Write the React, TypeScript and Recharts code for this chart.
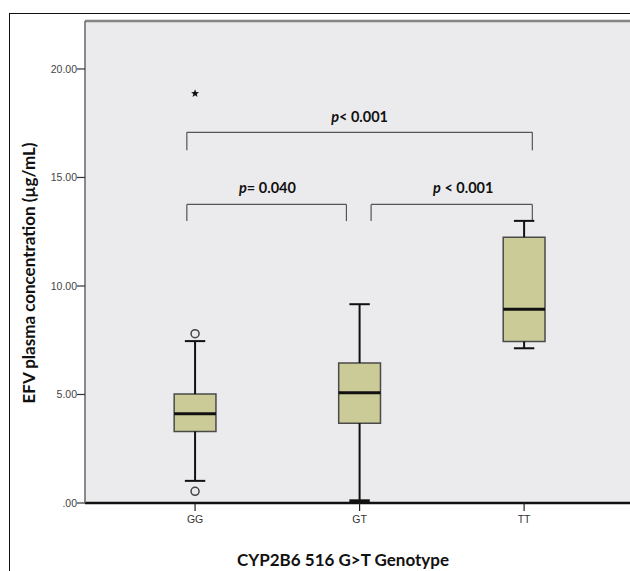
import React from 'react';
import {
  ComposedChart,
  XAxis,
  YAxis,
  CartesianGrid,
  ReferenceArea,
  ReferenceLine,
  Scatter,
} from 'recharts';

const categories = ['GG', 'GT', 'TT'];
const q1 = [3.3, 3.68, 7.44];
const medians = [4.11, 5.08, 8.93];
const q3 = [5.02, 6.45, 12.25];
const whiskerLow = [1.02, 0.1, 7.13];
const whiskerHigh = [7.46, 9.16, 13.0];
const circleOutliers = [
  { x: 0, y: 7.8 },
  { x: 0, y: 0.54 },
];
const starOutliers = [{ x: 0, y: 18.87 }];
const yTicks = [0, 5, 10, 15, 20];
const yTickLabels = ['.00', '5.00', '10.00', '15.00', '20.00'];
const brackets = [
  { x1: -0.05, x2: 2.05, yTop: 17.08, yLeg: 16.26 },
  { x1: -0.05, x2: 0.92, yTop: 13.76, yLeg: 12.99 },
  { x1: 1.07, x2: 2.05, yTop: 13.76, yLeg: 12.99 },
];
const pLabels = [
  { x: 1.0, y: 17.8, p: 'p', rest: '< 0.001' },
  { x: 0.44, y: 14.5, p: 'p', rest: '= 0.040' },
  { x: 1.63, y: 14.5, p: 'p', rest: ' < 0.001' },
];

const X_MIN = -0.669;
const X_MAX = 2.826;
const Y_MAX = 22.21;
const BOX_HALF = 0.127;
const CAP_HALF = 0.062;
const TITLE_FONT = 'Lato, "Open Sans", sans-serif';
const TICK_FONT = '"Liberation Sans", Arial, sans-serif';

const StarShape = (props: any) => {
  const { cx, cy } = props;
  const R = 4.2;
  const r = 1.8;
  const pts: string[] = [];
  for (let i = 0; i < 10; i++) {
    const a = (Math.PI / 5) * i - Math.PI / 2;
    const rad = i % 2 === 0 ? R : r;
    pts.push(`${cx + rad * Math.cos(a)},${cy + rad * Math.sin(a)}`);
  }
  return <polygon points={pts.join(' ')} fill="#111" />;
};

const CircleShape = (props: any) => {
  const { cx, cy } = props;
  return <circle cx={cx} cy={cy} r={4} fill="none" stroke="#444" strokeWidth={1.5} />;
};

const LabelShape = (props: any) => {
  const { cx, cy, payload } = props;
  return (
    <text
      x={cx}
      y={cy + 5}
      textAnchor="middle"
      fontFamily={TITLE_FONT}
      fontWeight="bold"
      fontSize={14.5}
      fill="#111"
    >
      <tspan fontStyle="italic">{payload.p}</tspan>
      <tspan>{payload.rest}</tspan>
    </text>
  );
};

const XTick = (props: any) => {
  const { x, y, payload } = props;
  return (
    <text
      x={x}
      y={y + 9}
      textAnchor="middle"
      fontFamily={TICK_FONT}
      fontSize={10.5}
      fill="#333333"
    >
      {categories[payload.value] ?? ''}
    </text>
  );
};

export default function App() {
  return (
    <div
      style={{
        position: 'fixed',
        left: 0,
        top: 0,
        width: 630,
        height: 571,
        overflow: 'hidden',
        background: '#fff',
      }}
    >
      <div
        style={{
          position: 'absolute',
          left: 9,
          top: 13,
          width: 800,
          height: 800,
          border: '1.5px solid #111',
          boxSizing: 'border-box',
        }}
      />
      <div style={{ position: 'absolute', left: 0, top: 0 }}>
        <ComposedChart
          width={660}
          height={571}
          margin={{ top: 21, right: 0, bottom: 0, left: 0 }}
        >
          <CartesianGrid horizontal={false} vertical={false} fill="#ebebed" />
          <XAxis
            type="number"
            dataKey="x"
            domain={[X_MIN, X_MAX]}
            ticks={[0, 1, 2]}
            allowDataOverflow
            height={68}
            tickSize={8}
            tickMargin={3}
            axisLine={{ stroke: '#111', strokeWidth: 2.5 }}
            tickLine={{ stroke: '#222', strokeWidth: 1.2 }}
            tick={XTick}
            label={{
              content: () => (
                <text
                  x={343}
                  y={566}
                  textAnchor="middle"
                  fontFamily={TITLE_FONT}
                  fontWeight="bold"
                  fontSize={17}
                  fill="#111"
                >
                  CYP2B6 516 G&gt;T Genotype
                </text>
              ),
            }}
          />
          <YAxis
            type="number"
            dataKey="y"
            domain={[0, Y_MAX]}
            ticks={yTicks}
            tickFormatter={(v: number) => yTickLabels[yTicks.indexOf(v)] ?? ''}
            allowDataOverflow
            width={85}
            tickSize={8}
            tickMargin={0}
            axisLine={{ stroke: '#666', strokeWidth: 1.5 }}
            tickLine={{ stroke: '#333', strokeWidth: 1.2 }}
            tick={{ fontFamily: TICK_FONT, fontSize: 10.5, fill: '#444' }}
            label={{
              content: () => (
                <text
                  x={28}
                  y={273}
                  transform="rotate(-90, 28, 273)"
                  textAnchor="middle"
                  dominantBaseline="central"
                  fontFamily={TITLE_FONT}
                  fontWeight="bold"
                  fontSize={17}
                  fill="#111"
                >
                  EFV plasma concentration (µg/mL)
                </text>
              ),
            }}
          />
          <ReferenceLine
            segment={[
              { x: X_MIN, y: Y_MAX },
              { x: X_MAX, y: Y_MAX },
            ]}
            stroke="#858585"
            strokeWidth={2.5}
            ifOverflow="visible"
          />
          {brackets.map((b, i) => (
            <React.Fragment key={`br${i}`}>
              <ReferenceLine
                segment={[
                  { x: b.x1, y: b.yTop },
                  { x: b.x2, y: b.yTop },
                ]}
                stroke="#555"
                strokeWidth={1.2}
              />
              <ReferenceLine
                segment={[
                  { x: b.x1, y: b.yTop },
                  { x: b.x1, y: b.yLeg },
                ]}
                stroke="#555"
                strokeWidth={1.2}
              />
              <ReferenceLine
                segment={[
                  { x: b.x2, y: b.yTop },
                  { x: b.x2, y: b.yLeg },
                ]}
                stroke="#555"
                strokeWidth={1.2}
              />
            </React.Fragment>
          ))}
          {categories.map((c, i) => (
            <React.Fragment key={`wh${c}`}>
              <ReferenceLine
                segment={[
                  { x: i, y: whiskerLow[i] },
                  { x: i, y: q1[i] },
                ]}
                stroke="#111"
                strokeWidth={2}
              />
              <ReferenceLine
                segment={[
                  { x: i, y: q3[i] },
                  { x: i, y: whiskerHigh[i] },
                ]}
                stroke="#111"
                strokeWidth={2}
              />
              <ReferenceLine
                segment={[
                  { x: i - CAP_HALF, y: whiskerLow[i] },
                  { x: i + CAP_HALF, y: whiskerLow[i] },
                ]}
                stroke="#111"
                strokeWidth={i === 1 ? 3 : 2}
              />
              <ReferenceLine
                segment={[
                  { x: i - CAP_HALF, y: whiskerHigh[i] },
                  { x: i + CAP_HALF, y: whiskerHigh[i] },
                ]}
                stroke="#111"
                strokeWidth={2}
              />
            </React.Fragment>
          ))}
          {categories.map((c, i) => (
            <ReferenceArea
              key={`box${c}`}
              x1={i - BOX_HALF}
              x2={i + BOX_HALF}
              y1={q1[i]}
              y2={q3[i]}
              fill="#cbcb97"
              fillOpacity={1}
              stroke="#4a4a4a"
              strokeWidth={1.5}
            />
          ))}
          {categories.map((c, i) => (
            <ReferenceLine
              key={`med${c}`}
              segment={[
                { x: i - BOX_HALF, y: medians[i] },
                { x: i + BOX_HALF, y: medians[i] },
              ]}
              stroke="#111"
              strokeWidth={3}
            />
          ))}
          <Scatter
            data={circleOutliers}
            dataKey="y"
            shape={CircleShape}
            isAnimationActive={false}
          />
          <Scatter
            data={starOutliers}
            dataKey="y"
            shape={StarShape}
            isAnimationActive={false}
          />
          <Scatter
            data={pLabels}
            dataKey="y"
            shape={LabelShape}
            isAnimationActive={false}
          />
        </ComposedChart>
      </div>
    </div>
  );
}
